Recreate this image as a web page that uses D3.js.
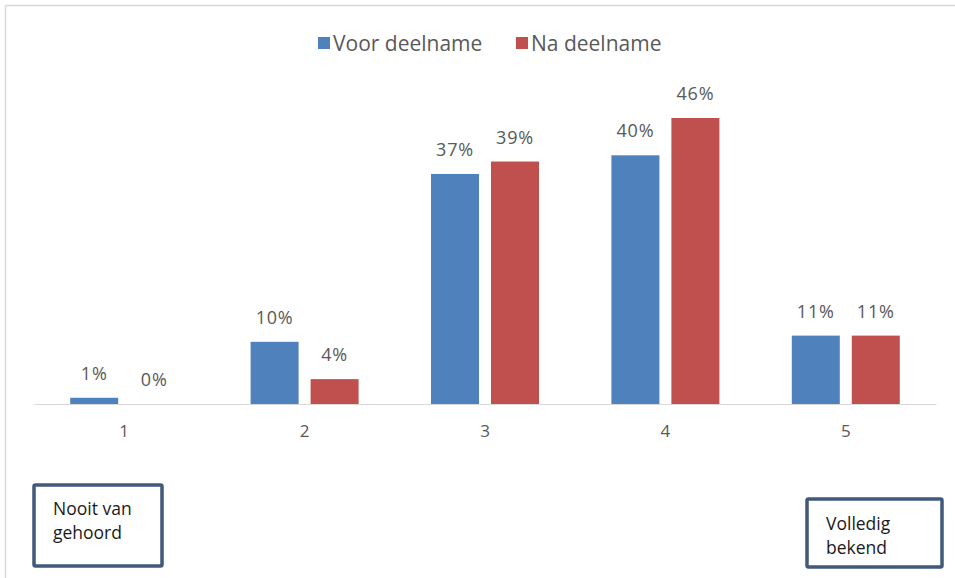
<!DOCTYPE html>
<html>
<head>
<meta charset="utf-8">
<script src="https://cdn.jsdelivr.net/npm/d3@7"></script>
<style>
  html, body { margin: 0; padding: 0; background: #fff; }
  svg { display: block; }
  text { font-family: "Open Sans", "Liberation Sans", sans-serif; }
</style>
</head>
<body>
<svg id="chart" width="955" height="578"></svg>
<script>
// Categories on the 1–5 familiarity scale
const categories = ["1", "2", "3", "4", "5"];
// Share of respondents (%) before and after participating
const voorValues = [1, 10, 37, 40, 11];
const naValues = [0, 4, 39, 46, 11];
const seriesNames = ["Voor deelname", "Na deelname"];
const seriesColors = ["#4F81BD", "#C0504D"];
const scaleEndLabels = [["Nooit van", "gehoord"], ["Volledig", "bekend"]];

const svg = d3.select("#chart");
const W = 955, H = 578;

// light frame around the chart area
svg.append("line").attr("x1", 5.5).attr("x2", W).attr("y1", 5.5).attr("y2", 5.5)
  .attr("stroke", "#d9d9d9").attr("stroke-width", 1.5);
svg.append("line").attr("x1", 5.5).attr("x2", 5.5).attr("y1", 5.5).attr("y2", H)
  .attr("stroke", "#d9d9d9").attr("stroke-width", 1.5);

const baseY = 404;
const x = d3.scaleBand().domain(categories).range([34, 936]).paddingInner(0).paddingOuter(0);
const sub = d3.scaleBand().domain(seriesNames).range([-54, 54]).paddingInner(0.2).paddingOuter(0);
const y = d3.scaleLinear().domain([0, 46]).range([baseY, 118]);

const rows = categories.map((c, i) => ({ cat: c, vals: [voorValues[i], naValues[i]] }));

// bars
const groups = svg.append("g").selectAll("g").data(rows).join("g")
  .attr("transform", d => `translate(${x(d.cat) + x.bandwidth() / 2},0)`);

groups.selectAll("rect").data(d => d.vals.map((v, j) => ({ v, s: seriesNames[j], j })))
  .join("rect")
  .attr("x", d => sub(d.s))
  .attr("width", sub.bandwidth())
  .attr("y", d => y(d.v))
  .attr("height", d => baseY - y(d.v))
  .attr("fill", d => seriesColors[d.j]);

// value labels
groups.selectAll("text.val").data(d => d.vals.map((v, j) => ({ v, s: seriesNames[j] })))
  .join("text").attr("class", "val")
  .attr("x", d => sub(d.s) + sub.bandwidth() / 2)
  .attr("y", d => y(d.v) - 18)
  .attr("text-anchor", "middle")
  .attr("font-size", 18)
  .attr("letter-spacing", 0.8)
  .attr("fill", "#595959")
  .text(d => d.v + "%");

// category axis
const axis = svg.append("g").attr("transform", `translate(0,${baseY})`)
  .call(d3.axisBottom(x).tickSize(0).tickPadding(21));
axis.select(".domain").attr("stroke", "#d9d9d9").attr("stroke-width", 1);
axis.selectAll(".tick text").attr("font-size", 17).attr("fill", "#595959")
  .attr("font-family", "\"Open Sans\", sans-serif");

// legend
const legend = svg.append("g").attr("transform", "translate(318,43)");
const legendX = [0, 198];
seriesNames.forEach((name, i) => {
  const g = legend.append("g").attr("transform", `translate(${legendX[i]},0)`);
  g.append("rect").attr("x", 0).attr("y", -6).attr("width", 12).attr("height", 12)
    .attr("fill", seriesColors[i]);
  g.append("text").attr("x", 15).attr("y", 7.5).attr("font-size", 21).attr("fill", "#595959")
    .text(name);
});

// scale end annotations
const boxes = [
  { x: 34, y: 485, w: 128, h: 81, ty: 30, lines: scaleEndLabels[0] },
  { x: 807, y: 499, w: 135, h: 68, ty: 31, lines: scaleEndLabels[1] }
];
boxes.forEach(b => {
  svg.append("rect").attr("x", b.x).attr("y", b.y).attr("width", b.w).attr("height", b.h)
    .attr("fill", "#fff").attr("stroke", "#41597A").attr("stroke-width", 3.5).attr("rx", 1.5);
  const t = svg.append("text").attr("x", b.x + 19).attr("y", b.y + b.ty)
    .attr("font-size", 17.5).attr("fill", "#1a1a1a")
    .attr("font-family", "\"Liberation Sans\", sans-serif");
  b.lines.forEach((ln, k) => t.append("tspan").attr("x", b.x + 19).attr("dy", k === 0 ? 0 : 24).text(ln));
});
</script>
</body>
</html>
